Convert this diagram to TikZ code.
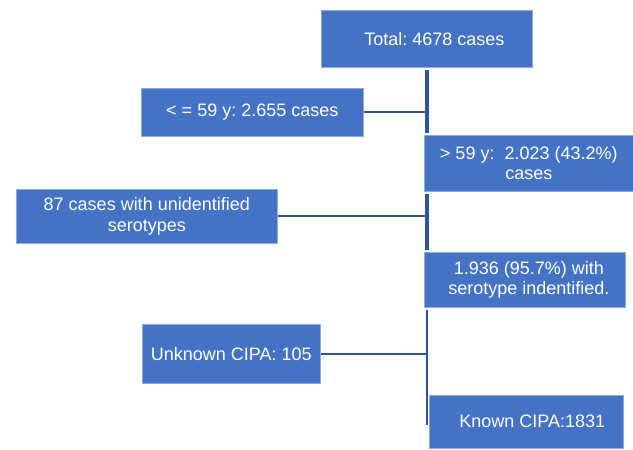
\documentclass[tikz,border=0pt]{standalone}
\usepackage{fontspec}
\setmainfont{Liberation Sans}
\frenchspacing
\definecolor{boxblue}{HTML}{4472C4}
\definecolor{edgeblue}{HTML}{8FAADC}
\definecolor{linkblue}{HTML}{2F5597}
\begin{document}
\begin{tikzpicture}[x=1pt,y=-1pt,
  box/.style={draw=edgeblue, line width=0.6pt, fill=boxblue, text=white,
    font=\fontsize{18}{20.5}\selectfont, align=center, inner sep=0pt, anchor=north west},
  link/.style={draw=linkblue, line width=2pt},
  spine/.style={draw=linkblue, line width=3.5pt, shorten <=2pt, shorten >=2pt}]
\useasboundingbox (0,0) rectangle (633,450);
\node[box, minimum width=211, minimum height=57] (total) at (321,10) {\hspace*{15pt}Total: 4678 cases};
\node[box, minimum width=222, minimum height=48] (le59) at (141,88) {< = 59 y: 2.655 cases};
\node[box, minimum width=209, minimum height=56] (gt59) at (424,135) {> 59 y:\ \ 2.023 (43.2\%)\\cases};
\node[box, minimum width=261, minimum height=54] (unid) at (16,189) {87 cases with unidentified\\serotypes};
\node[box, minimum width=201, minimum height=55] (ident) at (424,252) {\hspace*{8pt}1.936 (95.7\%) with\\\hspace*{8pt}serotype indentified.};
\node[box, minimum width=178, minimum height=59] (unknown) at (142,324) {Unknown CIPA: 105};
\node[box, minimum width=194, minimum height=53] (known) at (429,395) {\hspace*{12pt}Known CIPA:1831};
\coordinate (sx) at (427,0);
\draw[spine] (total.south -| sx) -- (gt59.north -| sx);
\draw[link] (le59.east) -- (le59.east -| sx);
\draw[spine] (gt59.south -| sx) -- (ident.north -| sx);
\draw[link] (unid.east) -- (unid.east -| sx);
\draw[spine, line width=2.5pt, shorten >=-3pt] (ident.south -| sx) -- (known.center -| sx);
\draw[link] (unknown.east) -- (unknown.east -| sx);
\end{tikzpicture}
\end{document}
